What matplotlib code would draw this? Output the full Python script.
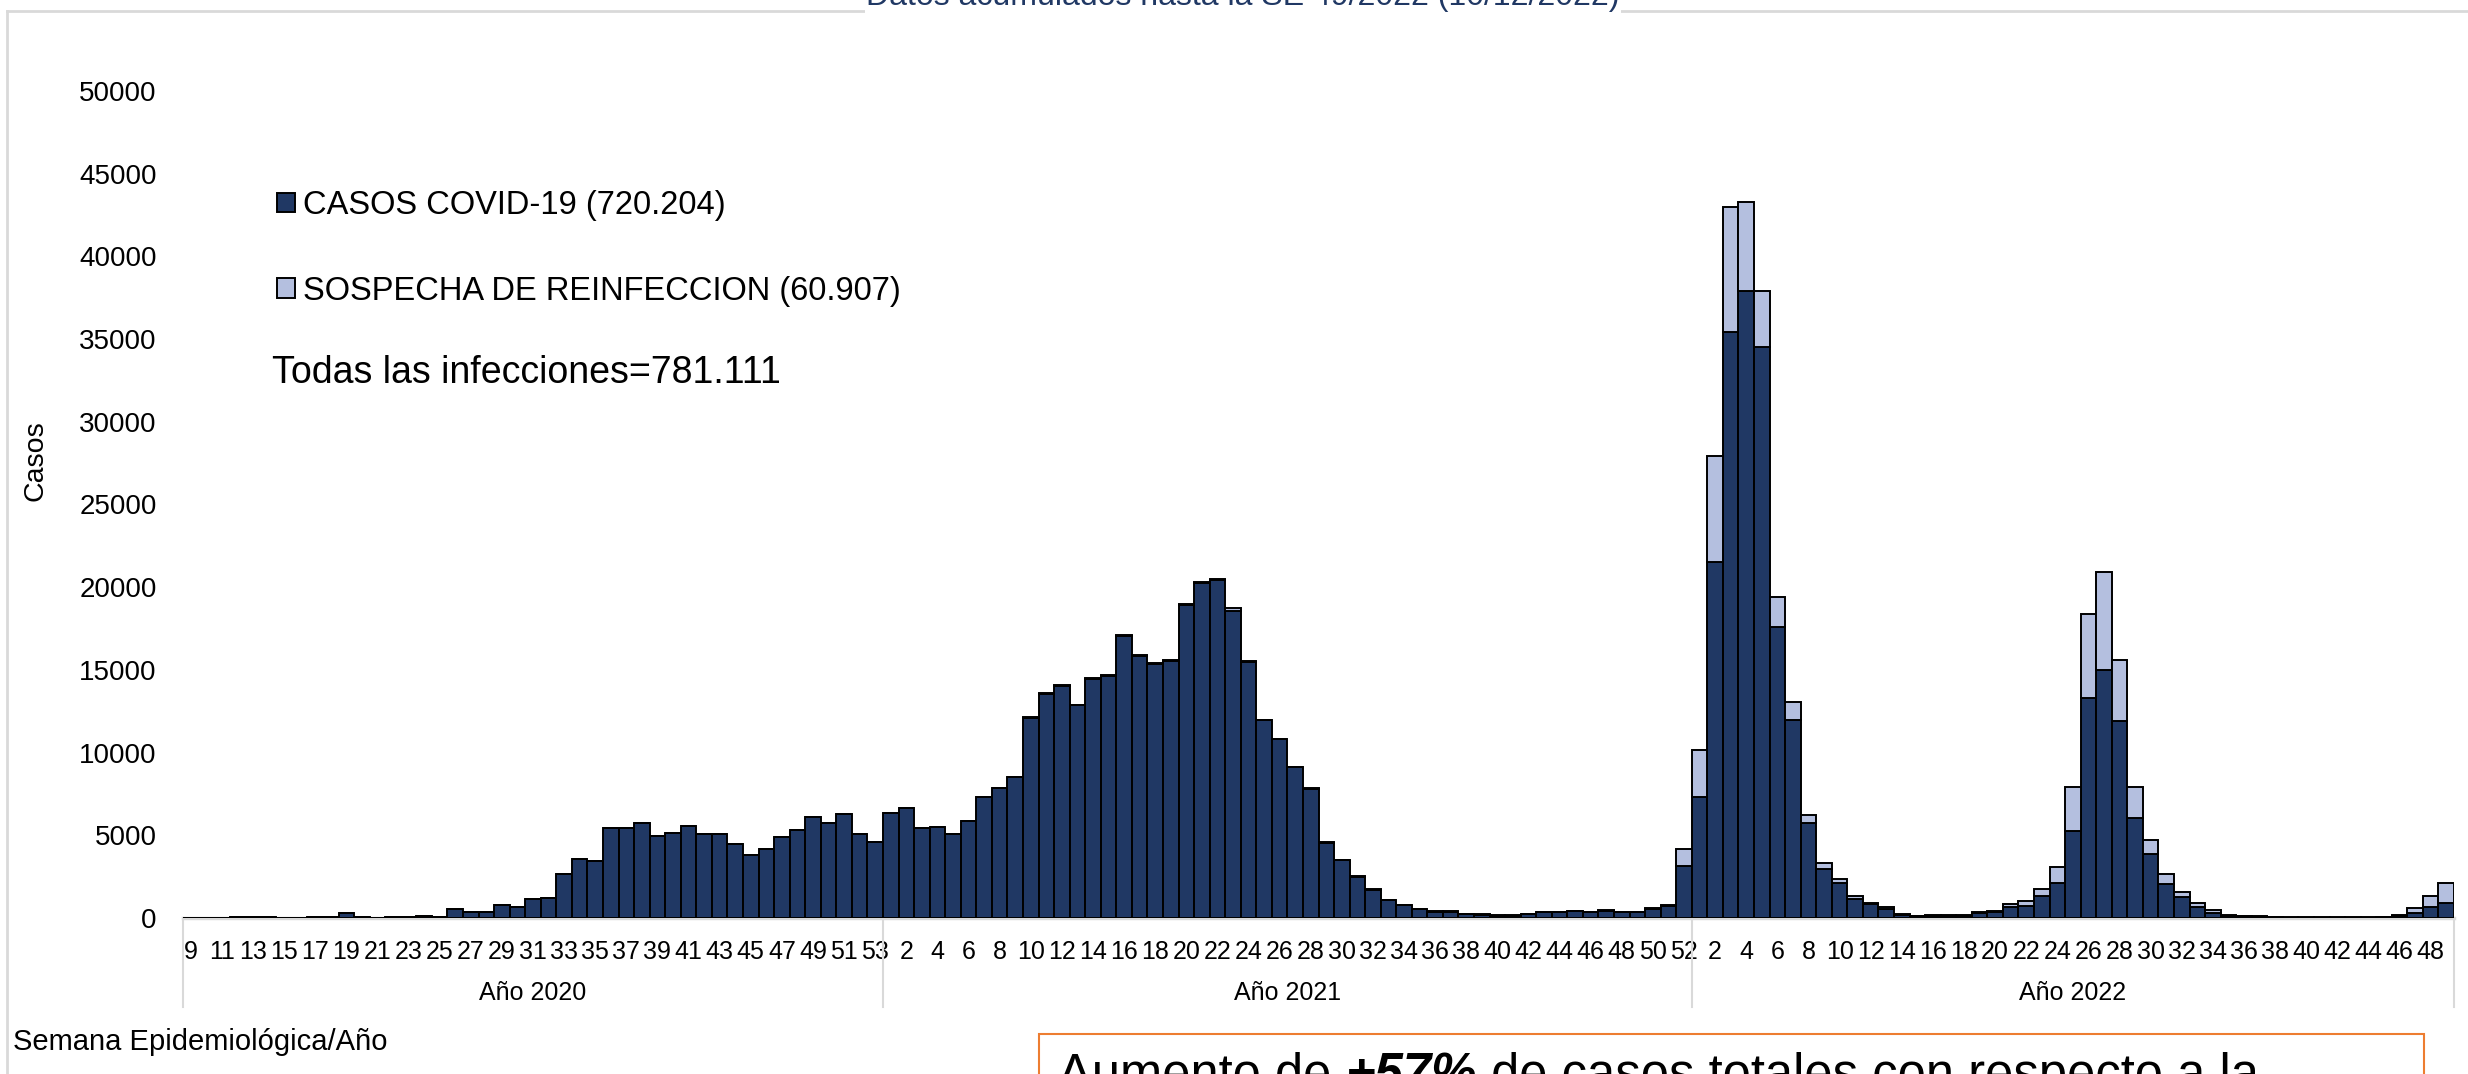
import matplotlib.pyplot as plt
import matplotlib.patches as mpatches
from matplotlib.transforms import blended_transform_factory
import numpy as np

# ===== DATA =====
weeks_2020 = list(range(9, 54))
weeks_2021 = list(range(1, 53))
weeks_2022 = list(range(1, 50))

casos_2020 = [0, 5, 20, 40, 45, 35, 30, 15, 40, 80,
              280, 80, 25, 60, 65, 120, 50, 520, 365, 365,
              770, 650, 1130, 1190, 2640, 3590, 3470, 5440, 5440, 5740,
              4960, 5160, 5560, 5080, 5080, 4490, 3790, 4190, 4880, 5340,
              6100, 5740, 6290, 5080, 4590]
reinf_2020 = [0] * 45

casos_2021 = [6350, 6630, 5440, 5500, 5080, 5860, 7300, 7850, 8500, 12100,
              13550, 14050, 12850, 14450, 14650, 17050, 15850, 15350, 15550, 18950,
              20250, 20450, 18550, 15500, 11950, 10800, 9100, 7800, 4560, 3480,
              2490, 1720, 1060, 756, 514, 373, 373, 212, 192, 151,
              151, 212, 333, 333, 393, 333, 433, 353, 353, 560,
              716, 3150]
reinf_2021 = [0, 0, 0, 0, 0, 0, 0, 0, 0, 50,
              50, 50, 50, 50, 50, 50, 50, 50, 50, 50,
              50, 50, 200, 50, 50, 50, 50, 50, 40, 40,
              40, 40, 30, 30, 30, 30, 30, 30, 30, 30,
              30, 30, 30, 30, 30, 30, 30, 30, 30, 40,
              50, 1000]

casos_2022 = [7300, 21500, 35400, 37900, 34500, 17600, 11950, 5750, 2980, 2100,
              1150, 850, 545, 180, 100, 150, 150, 150, 300, 360,
              665, 745, 1330, 2140, 5260, 13300, 15000, 11900, 6070, 3860,
              2060, 1250, 645, 322, 100, 100, 80, 40, 30, 30,
              30, 30, 30, 30, 40, 100, 282, 685, 930]
reinf_2022 = [2850, 6450, 7600, 5400, 3400, 1800, 1100, 500, 350, 280,
              200, 80, 100, 80, 40, 50, 50, 50, 80, 80,
              160, 300, 440, 940, 2680, 5100, 5900, 3700, 1830, 850,
              600, 300, 240, 160, 60, 40, 20, 10, 10, 10,
              10, 10, 10, 10, 10, 60, 300, 645, 1190]

years = ["Año 2020", "Año 2021", "Año 2022"]
title_txt = "Datos acumulados hasta la SE 49/2022 (10/12/2022)"
label_casos = "CASOS COVID-19 (720.204)"
label_reinf = "SOSPECHA DE REINFECCION (60.907)"
total_txt = "Todas las infecciones=781.111"
box_parts = ["Aumento de ", "+57%", " de casos totales con respecto a la"]

# ===== PREP =====
weeks = weeks_2020 + weeks_2021 + weeks_2022
casos = np.array(casos_2020 + casos_2021 + casos_2022)
reinf = np.array(reinf_2020 + reinf_2021 + reinf_2022)
x = np.arange(len(weeks))
group_sizes = [len(weeks_2020), len(weeks_2021), len(weeks_2022)]

DARK = "#203864"
LIGHT = "#b4bfdf"
GRID = "#d9d9d9"

plt.rcParams["font.family"] = ["Liberation Sans", "DejaVu Sans"]

W, H = 2468, 1074
fig = plt.figure(figsize=(W / 100, H / 100), dpi=100)

def fx(px):
    return px / W

def fy(py):
    return 1 - py / H

ax = fig.add_axes([fx(183), fy(918), fx(2454 - 183), 827 / H])

b1 = ax.bar(x, casos, width=1.0, color=DARK, edgecolor="black", linewidth=1.4, zorder=3)
b2 = ax.bar(x, reinf, width=1.0, bottom=casos, color=LIGHT, edgecolor="black", linewidth=1.4, zorder=3)

ax.set_xlim(-0.5, len(weeks) - 0.5)
ax.set_ylim(0, 50000)
ax.set_yticks(np.arange(0, 50001, 5000))
ax.tick_params(axis="y", length=0, pad=19, labelsize=20)

ax.set_xticks(x)
ax.set_xticklabels([str(w) if i % 2 == 0 else "" for i, w in enumerate(weeks)], fontsize=18)
ax.tick_params(axis="x", length=0, pad=16)

for s in ["top", "right", "left"]:
    ax.spines[s].set_visible(False)
ax.spines["bottom"].set_color(GRID)
ax.spines["bottom"].set_linewidth(2.5)
ax.spines["bottom"].set_zorder(1)

# year groups and separators
trans = blended_transform_factory(ax.transData, ax.transAxes)
edges = np.concatenate([[0], np.cumsum(group_sizes)]) - 0.5
for e in edges:
    ax.plot([e, e], [0, -0.108], color=GRID, lw=1.5, transform=trans, clip_on=False)
for i, name in enumerate(years):
    cx = (edges[i] + edges[i + 1]) / 2
    ax.text(cx, -0.091, name, transform=trans, ha="center", va="center", fontsize=18)

# axis titles
fig.text(fx(35), fy(461), "Casos", rotation=90, ha="center", va="center", fontsize=20.5)
fig.text(fx(13), fy(1042), "Semana Epidemiológica/Año", ha="left", va="center", fontsize=21)

# legend
ax.legend([b1, b2], [label_casos, label_reinf], loc="upper left",
          bbox_to_anchor=(fx(277), fy(190)), bbox_transform=fig.transFigure,
          frameon=False, fontsize=23.5, handlelength=0.55, handleheight=0.55,
          handletextpad=0.25, labelspacing=1.68, borderpad=0, borderaxespad=0)
fig.text(fx(272), fy(373), total_txt, ha="left", va="center", fontsize=27)

# chart frame and title
fig.add_artist(plt.Line2D([fx(7), fx(7)], [fy(11), 0], color=GRID, lw=2))
fig.add_artist(plt.Line2D([fx(7), 1], [fy(11), fy(11)], color=GRID, lw=2))
fig.text(fx(1243), fy(12), title_txt, ha="center", va="bottom", fontsize=23,
         color=DARK, bbox=dict(facecolor="white", edgecolor="none", pad=1))

# text box at the bottom
rect = mpatches.Rectangle((fx(1039), fy(1100)), fx(2424 - 1039), (1100 - 1034) / H,
                          transform=fig.transFigure, facecolor="white",
                          edgecolor="#ed7d31", linewidth=1.5)
fig.add_artist(rect)
renderer = fig.canvas.get_renderer()
xpos = 1058
styles = [dict(), dict(fontweight="bold", fontstyle="italic"), dict()]
for part, st in zip(box_parts, styles):
    t = fig.text(fx(xpos), fy(1090), part, ha="left", va="baseline", fontsize=36.5, **st)
    xpos += t.get_window_extent(renderer).width

fig.savefig("out.png", dpi=100)
